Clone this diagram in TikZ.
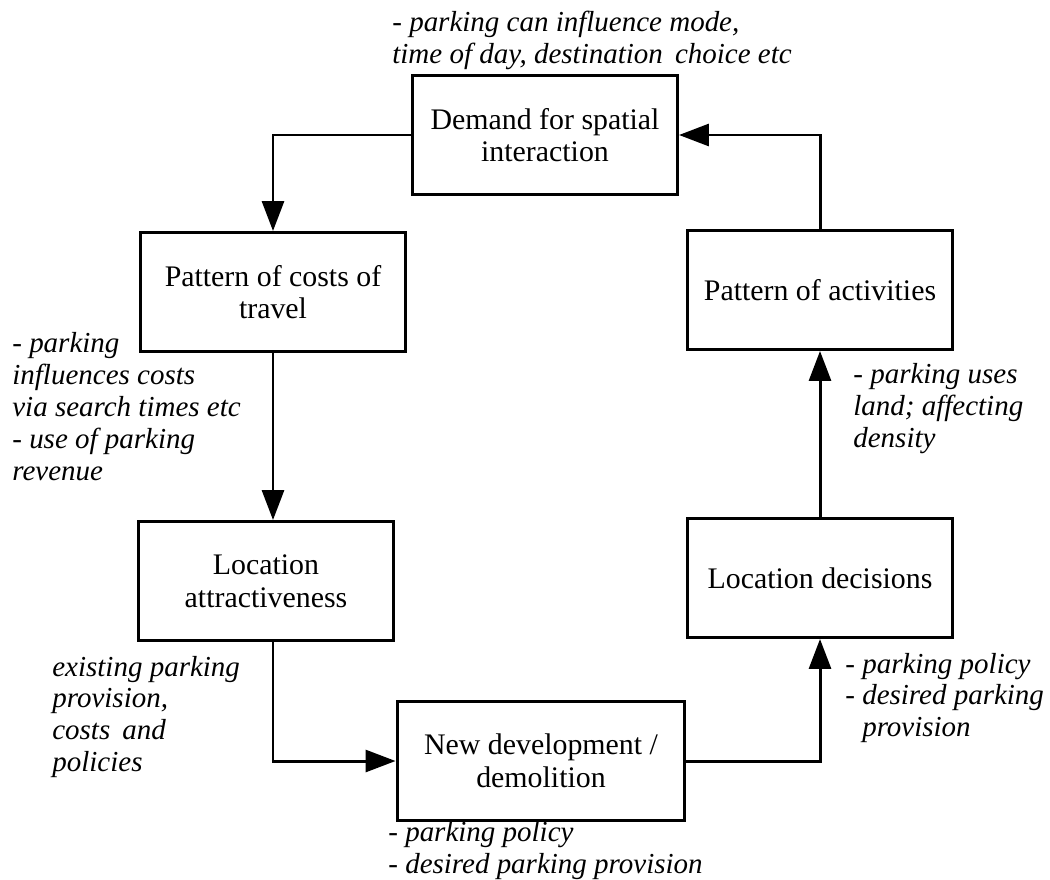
\documentclass[tikz,border=0pt]{standalone}
\usepackage{fontspec}
\setmainfont{Liberation Serif}
\usetikzlibrary{arrows.meta}
\tikzset{
  box/.style={draw, line width=1.7pt, minimum width=5.3cm, minimum height=2.38cm,
    align=center, inner sep=0pt, font=\fontsize{17}{18.5}\selectfont},
  note/.style={anchor=west, align=left, inner sep=0pt,
    font=\fontsize{16.5}{18.2}\selectfont\itshape},
  arr/.style={line width=1.7pt, -{Triangle[length=0.6cm,width=0.44cm]}}
}
\begin{document}
\begin{tikzpicture}[x=0.02cm,y=-0.02cm]
\useasboundingbox (0,0) rectangle (1050,879);
% boxes
\node[box] (demand) at (545,135) {Demand for spatial\\interaction};
\node[box] (costs) at (273,292) {Pattern of costs of\\travel};
\node[box] (activities) at (820,290) {Pattern of activities};
\node[box, minimum width=5.12cm] (attr) at (266,581) {Location\\attractiveness};
\node[box] (decisions) at (820,578) {Location decisions};
\node[box, minimum width=5.76cm] (newdev) at (541,761) {New development /\\demolition};
% cycle
\draw[arr] (demand.west) -| (costs.north);
\draw[arr] (costs.south) -- (costs.south |- attr.north);
\draw[arr] (attr.south -| costs.south) |- (newdev.west);
\draw[arr] (newdev.east) -| (decisions.south);
\draw[arr] (decisions.north) -- (activities.south);
\draw[arr] (activities.north) |- (demand.east);
% notes
\node[note] (topnote) at (392,40) {- parking can influence mode,\\time of day, destination\, choice etc};
\node[note] (costsnote) at (12,407) {- parking\\influences costs\\via search times etc\\- use of parking\\revenue};
\node[note] (attrnote) at (52,717) {existing parking\\provision,\\costs\, and\\policies};
\node[note] (devnote) at (388,851) {- parking policy\\- desired parking provision};
\node[note] (decnote) at (845,698) {- parking policy\\- desired parking\\\phantom{- }provision};
\node[note] (actnote) at (853,409) {- parking uses\\land; affecting\\density};
\end{tikzpicture}
\end{document}
